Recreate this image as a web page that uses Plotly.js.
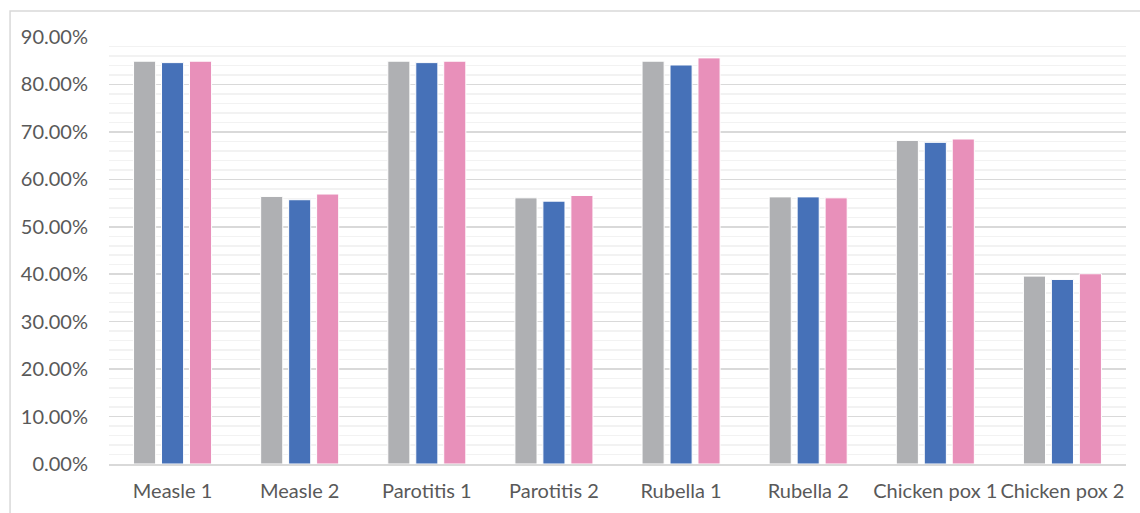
<!DOCTYPE html>
<html>
<head>
<meta charset="utf-8">
<script src="https://cdn.plot.ly/plotly-3.0.1.min.js"></script>
<style>
  html, body { margin: 0; padding: 0; background: #ffffff; }
  #chart { width: 1140px; height: 513px; }
</style>
</head>
<body>
<div id="chart"></div>
<script>
const categories = ['Measle 1', 'Measle 2', 'Parotitis 1', 'Parotitis 2', 'Rubella 1', 'Rubella 2', 'Chicken pox 1', 'Chicken pox 2'];
const seriesGray = [84.9, 56.4, 84.9, 56.1, 84.9, 56.3, 68.2, 39.6];
const seriesBlue = [84.6, 55.7, 84.6, 55.4, 84.1, 56.3, 67.8, 38.9];
const seriesPink = [84.9, 56.9, 84.9, 56.6, 85.6, 56.1, 68.5, 40.1];
const yTickVals = [0, 10, 20, 30, 40, 50, 60, 70, 80, 90];
const yTickText = yTickVals.map(v => v.toFixed(2) + '%');

const fontFamily = 'Lato, "Open Sans", sans-serif';
const textColor = '#595959';

function barTrace(name, values, color) {
  return {
    type: 'bar', name: name, x: categories, y: values,
    marker: { color: color, line: { color: '#ffffff', width: 1 } },
    hoverinfo: 'x+y'
  };
}

const data = [
  barTrace('Series 1', seriesGray, '#AFB0B3'),
  barTrace('Series 2', seriesBlue, '#4671B8'),
  barTrace('Series 3', seriesPink, '#E890BA')
];

const layout = {
  width: 1140, height: 513,
  margin: { l: 109, r: 14, t: 37, b: 49, pad: 0 },
  paper_bgcolor: '#ffffff', plot_bgcolor: '#ffffff',
  showlegend: false,
  barmode: 'group', bargap: 0.34, bargroupgap: 0.21,
  font: { family: fontFamily, size: 20, color: textColor },
  xaxis: {
    type: 'category',
    showgrid: false, zeroline: false,
    showline: true, linecolor: '#d9d9d9', linewidth: 2,
    ticks: '', ticklabelstandoff: 8,
    tickfont: { family: fontFamily, size: 20, color: textColor }
  },
  yaxis: {
    range: [0, 90], tickmode: 'array', tickvals: yTickVals, ticktext: yTickText,
    showgrid: true, gridcolor: '#d9d9d9', gridwidth: 1.5,
    zeroline: false, showline: false, ticks: '',
    ticklabelstandoff: 20,
    minor: { dtick: 2, showgrid: true, gridcolor: '#f2f2f2', gridwidth: 1.5 },
    tickfont: { family: fontFamily, size: 20, color: textColor }
  },
  shapes: [{
    type: 'rect', xref: 'paper', yref: 'paper',
    x0: -0.0973, x1: 1.03, y0: -0.2, y1: 1.0609,
    line: { color: '#d9d9d9', width: 1.5 }, fillcolor: 'rgba(0,0,0,0)', layer: 'below'
  }]
};

Plotly.newPlot('chart', data, layout, { displayModeBar: false, staticPlot: true });
</script>
</body>
</html>
